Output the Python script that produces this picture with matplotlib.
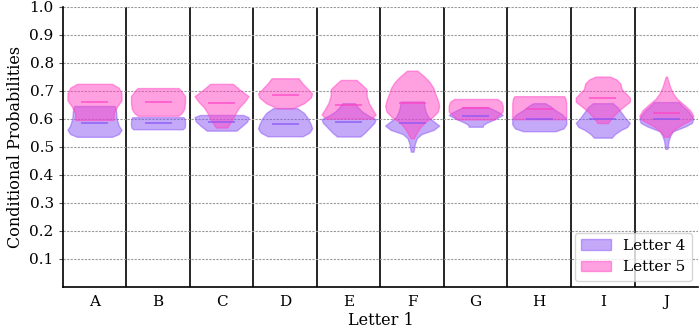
import matplotlib
matplotlib.use("Agg")
import matplotlib.pyplot as plt
from matplotlib.patches import Patch
import numpy as np

categories = ["A", "B", "C", "D", "E", "F", "G", "H", "I", "J"]
y_ticks = [0.1, 0.2, 0.3, 0.4, 0.5, 0.6, 0.7, 0.8, 0.9, 1.0]
series_names = ["Letter 4", "Letter 5"]

# Density profiles: (probability values, relative density)
L4_Y = [
    [0.535, 0.545, 0.56, 0.575, 0.60, 0.625, 0.645],
    [0.562, 0.568, 0.575, 0.59, 0.60, 0.605],
    [0.557, 0.565, 0.575, 0.59, 0.605, 0.613],
    [0.537, 0.55, 0.565, 0.58, 0.60, 0.62, 0.637],
    [0.536, 0.55, 0.57, 0.585, 0.598, 0.61, 0.625, 0.64, 0.655],
    [0.482, 0.51, 0.53, 0.545, 0.56, 0.575, 0.59, 0.605, 0.625, 0.645, 0.661],
    [0.571, 0.578, 0.585, 0.60, 0.613, 0.62, 0.63, 0.641],
    [0.555, 0.565, 0.58, 0.60, 0.615, 0.63, 0.645, 0.655],
    [0.532, 0.545, 0.56, 0.57, 0.585, 0.60, 0.62, 0.64, 0.655],
    [0.492, 0.52, 0.54, 0.555, 0.572, 0.585, 0.60, 0.615, 0.63, 0.645, 0.659],
]
L4_W = [
    [0.65, 0.9, 1.0, 0.9, 0.82, 0.8, 0.75],
    [0.92, 0.98, 1.0, 1.0, 0.98, 0.95],
    [0.55, 0.65, 0.78, 0.95, 1.0, 0.8],
    [0.65, 0.9, 1.0, 0.95, 0.85, 0.7, 0.45],
    [0.43, 0.6, 0.8, 0.95, 1.0, 0.75, 0.5, 0.35, 0.23],
    [0.05, 0.1, 0.17, 0.35, 0.8, 1.0, 0.8, 0.6, 0.5, 0.45, 0.43],
    [0.26, 0.28, 0.4, 0.75, 1.0, 0.9, 0.7, 0.46],
    [0.6, 0.9, 1.0, 1.0, 0.85, 0.6, 0.4, 0.22],
    [0.33, 0.45, 0.68, 0.9, 1.0, 0.85, 0.7, 0.55, 0.37],
    [0.04, 0.08, 0.15, 0.25, 0.7, 0.95, 1.0, 0.9, 0.78, 0.6, 0.46],
]
L4_MEAN = [0.585, 0.585, 0.589, 0.581, 0.587, 0.585, 0.611, 0.597, 0.598, 0.598]

L5_Y = [
    [0.595, 0.62, 0.645, 0.665, 0.69, 0.71, 0.724],
    [0.61, 0.62, 0.635, 0.656, 0.68, 0.70, 0.709],
    [0.568, 0.60, 0.62, 0.64, 0.66, 0.68, 0.70, 0.724],
    [0.637, 0.655, 0.675, 0.69, 0.705, 0.725, 0.744],
    [0.60, 0.615, 0.63, 0.655, 0.68, 0.705, 0.72, 0.738],
    [0.53, 0.55, 0.57, 0.59, 0.605, 0.625, 0.645, 0.665, 0.69, 0.71, 0.73, 0.75, 0.771],
    [0.597, 0.612, 0.625, 0.645, 0.66, 0.670],
    [0.598, 0.605, 0.62, 0.655, 0.672, 0.680],
    [0.584, 0.605, 0.625, 0.645, 0.66, 0.675, 0.69, 0.705, 0.725, 0.74, 0.75],
    [0.535, 0.55, 0.565, 0.58, 0.595, 0.61, 0.63, 0.65, 0.67, 0.69, 0.71, 0.735, 0.75],
]
L5_W = [
    [0.7, 0.72, 0.85, 1.0, 1.0, 0.9, 0.65],
    [0.75, 0.88, 0.97, 1.0, 1.0, 0.85, 0.76],
    [0.21, 0.42, 0.52, 0.65, 0.85, 1.0, 0.72, 0.42],
    [0.3, 0.7, 0.95, 1.0, 0.85, 0.65, 0.5],
    [0.85, 1.0, 0.9, 0.75, 0.67, 0.66, 0.5, 0.29],
    [0.06, 0.17, 0.3, 0.5, 0.75, 0.95, 1.0, 0.95, 0.85, 0.78, 0.65, 0.45, 0.19],
    [0.68, 0.85, 1.0, 1.0, 0.95, 0.8],
    [0.95, 1.0, 1.0, 1.0, 0.97, 0.92],
    [0.19, 0.35, 0.55, 0.8, 1.0, 1.0, 0.85, 0.7, 0.65, 0.5, 0.26],
    [0.08, 0.17, 0.35, 0.6, 0.9, 1.0, 0.88, 0.65, 0.4, 0.25, 0.15, 0.07, 0.02],
]
L5_MEAN = [0.659, 0.661, 0.657, 0.685, 0.649, 0.656, 0.637, 0.633, 0.672, 0.619]

COL4 = "#8a55f5"
COL5 = "#ff44c4"

plt.rcParams["font.family"] = ["DejaVu Serif"]

fig = plt.figure(figsize=(6.99, 3.28), dpi=100)
ax = fig.add_axes([0.0897, 0.126, 0.909, 0.854])


def make_stats(ys, ws, means):
    stats = []
    for y, w, m in zip(ys, ws, means):
        y = np.asarray(y, float)
        w = np.asarray(w, float)
        stats.append(dict(coords=y, vals=w, mean=m, median=float(np.median(y)),
                          min=float(y.min()), max=float(y.max())))
    return stats


positions = np.arange(1, len(categories) + 1)

for ys, ws, ms, col in [(L4_Y, L4_W, L4_MEAN, COL4), (L5_Y, L5_W, L5_MEAN, COL5)]:
    parts = ax.violin(make_stats(ys, ws, ms), positions=positions, widths=0.85,
                      showmeans=True, showextrema=False, showmedians=False)
    for b in parts["bodies"]:
        b.set_facecolor(col)
        b.set_edgecolor(col)
        b.set_alpha(0.5)
        b.set_linewidth(1.0)
    parts["cmeans"].set_color(col)
    parts["cmeans"].set_alpha(0.8)
    parts["cmeans"].set_linewidth(1.2)

for xs in np.arange(1.5, len(categories), 1.0):
    ax.axvline(xs, color="black", lw=1.2, zorder=0.5)

ax.set_xlim(0.5, len(categories) + 0.5)
ax.set_ylim(0, 1.0)
ax.set_yticks(y_ticks)
ax.set_yticklabels([f"{v:.1f}" for v in y_ticks])
ax.set_xticks(positions)
ax.set_xticklabels(categories)
ax.tick_params(axis="x", length=0, labelsize=11, pad=6)
ax.tick_params(axis="y", length=3, labelsize=11, color="#555555")
ax.yaxis.grid(True, linestyle=(0, (2, 1.2)), color="#999999", linewidth=0.8)
ax.set_axisbelow(True)
for s in ["top", "right"]:
    ax.spines[s].set_visible(False)
ax.spines["left"].set_linewidth(1.2)
ax.spines["bottom"].set_linewidth(1.2)

ax.set_ylabel("Conditional Probabilities", fontsize=11.5)
ax.set_xlabel("Letter 1", fontsize=11.5, labelpad=2)

handles = [Patch(facecolor=COL4, edgecolor=COL4, alpha=0.5, label=series_names[0]),
           Patch(facecolor=COL5, edgecolor=COL5, alpha=0.5, label=series_names[1])]
ax.legend(handles=handles, loc="lower right", fontsize=11, framealpha=0.8,
          borderaxespad=0.4)

fig.savefig("out.png", dpi=100)
